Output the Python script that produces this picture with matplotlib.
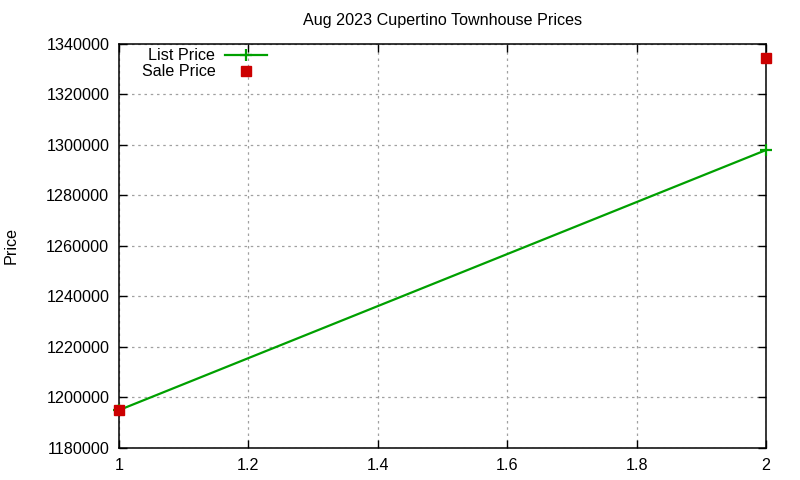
import matplotlib
matplotlib.use("Agg")
import matplotlib.pyplot as plt
from matplotlib.ticker import MultipleLocator, FormatStrFormatter

plt.rcParams['font.family'] = ['Liberation Sans', 'DejaVu Sans']

title = "Aug 2023 Cupertino Townhouse Prices"
x_vals = [1, 2]
list_price = [1195000, 1298000]
sale_price = [1195000, 1334500]

FS = 11.6

fig = plt.figure(figsize=(8, 4.8), dpi=100)
ax = fig.add_axes([119/800, 1-448/480, (766-119)/800, (448-44)/480])

ax.plot(x_vals, list_price, color='#00a000', lw=1.6, marker='+', ms=8, mew=1.6,
        label='List Price', clip_on=False, zorder=3)
ax.plot(x_vals, sale_price, color='#cc0000', ls='none', marker='s', ms=6.5,
        label='Sale Price', clip_on=False, zorder=4)

ax.set_xlim(1, 2)
ax.set_ylim(1180000, 1340000)
ax.xaxis.set_major_locator(MultipleLocator(0.2))
ax.yaxis.set_major_locator(MultipleLocator(20000))
ax.xaxis.set_major_formatter(FormatStrFormatter('%g'))
ax.yaxis.set_major_formatter(FormatStrFormatter('%d'))
ax.tick_params(direction='in', length=6, width=1, top=True, right=True,
               labelsize=FS, colors='black', pad=7)
ax.grid(True, color='#a0a0a0', ls=(0, (2, 3)), lw=0.9)
for s in ax.spines.values():
    s.set_linewidth(1.1)

ax.set_title(title, fontsize=FS, pad=14)
ax.set_ylabel('Price', fontsize=FS, labelpad=20)

leg = ax.legend(loc='upper left', bbox_to_anchor=(0.02, 1.013), frameon=False,
                markerfirst=False, fontsize=FS, handlelength=2.6,
                handletextpad=0.6, labelspacing=0.05, borderaxespad=0.2)

fig.savefig('out.png', dpi=100)
